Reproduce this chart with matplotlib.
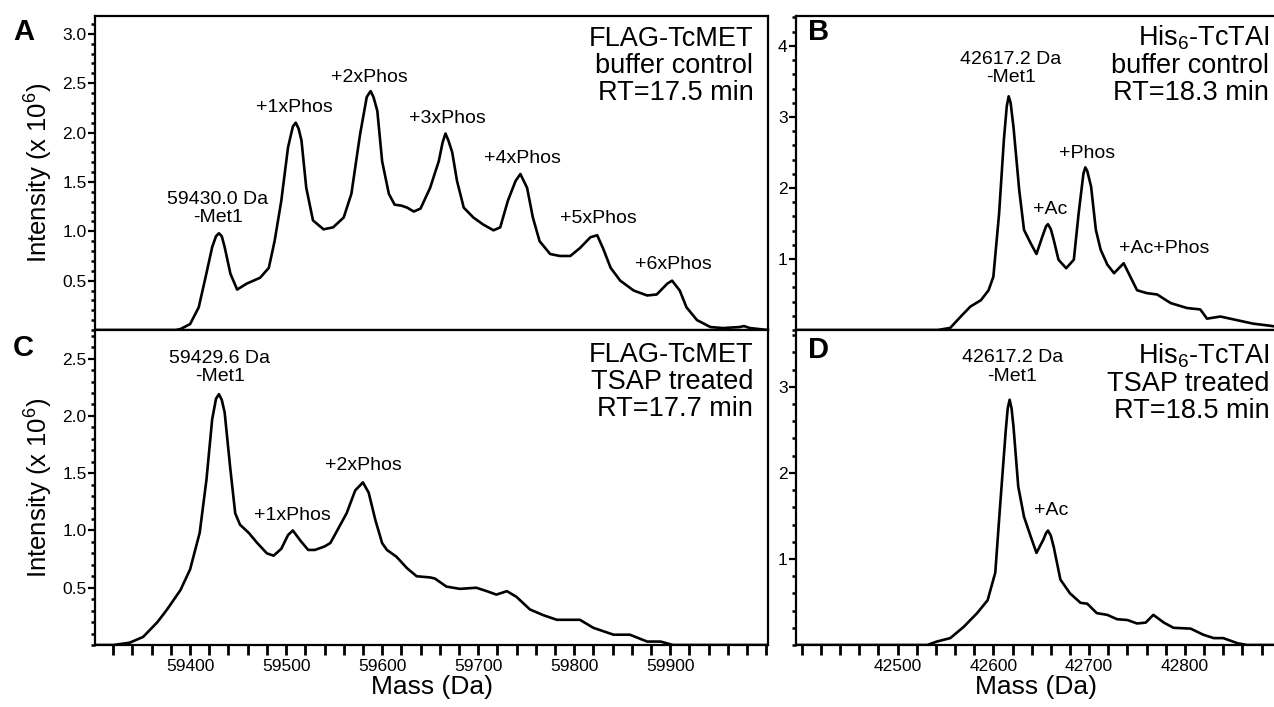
"""
Deconvoluted intact-mass spectra for FLAG-TcMET and His6-TcTAI,
buffer control vs TSAP treated.
"""

import matplotlib
matplotlib.use('Agg')
import matplotlib.pyplot as plt
from matplotlib.ticker import MultipleLocator, FixedLocator, FormatStrFormatter

plt.rcParams['font.family'] = ['Liberation Sans', 'DejaVu Sans']
plt.rcParams['mathtext.fontset'] = 'custom'
plt.rcParams['mathtext.rm'] = 'Liberation Sans'
plt.rcParams['mathtext.default'] = 'regular'

# Panel A: FLAG-TcMET buffer control (mass in Da, intensity x 10^6)
mass_a = [59301, 59330, 59360, 59385, 59390, 59400, 59409, 59416, 59423, 59427,
          59430, 59433, 59436, 59442, 59449, 59459, 59473, 59482, 59488, 59495,
          59502, 59507, 59510, 59513, 59516, 59521, 59528, 59539, 59549, 59560,
          59568, 59577, 59584, 59588, 59591, 59595, 59600, 59607, 59613, 59620,
          59626, 59633, 59640, 59650, 59659, 59663, 59666, 59669, 59673, 59678,
          59685, 59695, 59705, 59716, 59723, 59731, 59739, 59744, 59751, 59757,
          59764, 59775, 59785, 59796, 59806, 59817, 59824, 59830, 59838, 59848,
          59862, 59876, 59886, 59897, 59902, 59910, 59917, 59928, 59942, 59955,
          59972, 59977, 59983, 60002]
int_a = [0.0, 0.0, 0.0, 0.0, 0.01, 0.06, 0.23, 0.53, 0.84, 0.95,
         0.98, 0.95, 0.84, 0.57, 0.41, 0.47, 0.53, 0.63, 0.90, 1.31,
         1.85, 2.06, 2.10, 2.04, 1.92, 1.44, 1.11, 1.02, 1.04, 1.14,
         1.38, 1.98, 2.36, 2.42, 2.36, 2.22, 1.71, 1.38, 1.27, 1.26,
         1.24, 1.20, 1.23, 1.44, 1.71, 1.90, 1.99, 1.92, 1.80, 1.51,
         1.24, 1.14, 1.07, 1.01, 1.04, 1.31, 1.51, 1.58, 1.44, 1.14,
         0.90, 0.77, 0.75, 0.75, 0.83, 0.94, 0.96, 0.83, 0.63, 0.50,
         0.40, 0.35, 0.36, 0.47, 0.50, 0.40, 0.23, 0.10, 0.03, 0.02,
         0.03, 0.04, 0.02, 0.0]

# Panel C: FLAG-TcMET TSAP treated
mass_c = [59301, 59320, 59337, 59351, 59366, 59376, 59390, 59400, 59410, 59417,
          59423, 59427, 59430, 59433, 59436, 59442, 59447, 59452, 59461, 59470,
          59480, 59487, 59495, 59502, 59507, 59515, 59523, 59530, 59540, 59546,
          59550, 59563, 59572, 59580, 59586, 59593, 59600, 59605, 59615, 59626,
          59636, 59650, 59655, 59667, 59681, 59698, 59709, 59719, 59730, 59740,
          59754, 59768, 59782, 59796, 59806, 59820, 59841, 59858, 59876, 59890,
          59903, 59950, 60002]
int_c = [0.0, 0.0, 0.02, 0.07, 0.20, 0.31, 0.48, 0.66, 0.98, 1.44,
         1.97, 2.15, 2.19, 2.14, 2.03, 1.53, 1.15, 1.05, 0.98, 0.89,
         0.80, 0.78, 0.84, 0.96, 1.00, 0.91, 0.83, 0.83, 0.86, 0.89,
         0.95, 1.15, 1.35, 1.42, 1.33, 1.09, 0.89, 0.83, 0.77, 0.67,
         0.60, 0.59, 0.58, 0.51, 0.49, 0.50, 0.47, 0.44, 0.47, 0.42,
         0.31, 0.26, 0.22, 0.22, 0.22, 0.15, 0.09, 0.09, 0.03, 0.03,
         0.0, 0.0, 0.0]

# Panel B: His6-TcTAI buffer control
mass_b = [42394, 42450, 42500, 42542, 42555, 42566, 42576, 42587, 42595, 42600,
          42606, 42611, 42614, 42616, 42618, 42621, 42627, 42632, 42639, 42645,
          42651, 42655, 42657, 42660, 42663, 42668, 42676, 42684, 42689, 42694,
          42696, 42698, 42702, 42707, 42712, 42719, 42726, 42731, 42736, 42743,
          42750, 42760, 42771, 42785, 42802, 42816, 42823, 42837, 42854, 42871,
          42889, 42894]
int_b = [0.0, 0.0, 0.0, 0.0, 0.03, 0.19, 0.33, 0.42, 0.56, 0.75,
         1.64, 2.68, 3.15, 3.29, 3.20, 2.86, 1.97, 1.41, 1.22, 1.07,
         1.31, 1.46, 1.49, 1.42, 1.27, 0.99, 0.87, 0.99, 1.64, 2.20,
         2.29, 2.24, 2.02, 1.41, 1.13, 0.92, 0.80, 0.87, 0.94, 0.75,
         0.56, 0.52, 0.50, 0.38, 0.31, 0.29, 0.16, 0.19, 0.14, 0.09,
         0.06, 0.05]

# Panel D: His6-TcTAI TSAP treated
mass_d = [42394, 42450, 42500, 42531, 42541, 42555, 42569, 42583, 42594, 42602,
          42607, 42613, 42615, 42617, 42619, 42621, 42626, 42632, 42639, 42645,
          42652, 42655, 42657, 42660, 42663, 42670, 42680, 42691, 42698, 42708,
          42719, 42729, 42740, 42750, 42759, 42767, 42778, 42788, 42806, 42819,
          42830, 42840, 42855, 42865, 42894]
int_d = [0.0, 0.0, 0.0, 0.0, 0.04, 0.08, 0.21, 0.37, 0.52, 0.84,
         1.61, 2.50, 2.75, 2.85, 2.75, 2.54, 1.84, 1.49, 1.26, 1.07,
         1.22, 1.30, 1.33, 1.27, 1.14, 0.76, 0.60, 0.49, 0.48, 0.37,
         0.35, 0.30, 0.29, 0.25, 0.26, 0.35, 0.26, 0.20, 0.19, 0.12,
         0.08, 0.08, 0.02, 0.0, 0.0]

# Peak labels: (text, mass, intensity)
labels_a = [('59430.0 Da\n-Met1', 59429, 1.23), ('+1xPhos', 59509, 2.25),
            ('+2xPhos', 59587, 2.56), ('+3xPhos', 59668, 2.14),
            ('+4xPhos', 59746, 1.74), ('+5xPhos', 59825, 1.13),
            ('+6xPhos', 59903, 0.66)]
labels_c = [('59429.6 Da\n-Met1', 59431, 2.42), ('+1xPhos', 59507, 1.135),
            ('+2xPhos', 59580, 1.57)]
labels_b = [('42617.2 Da\n-Met1', 42618, 3.68), ('+Ac', 42659, 1.70),
            ('+Phos', 42698, 2.48), ('+Ac+Phos', 42778, 1.15)]
labels_d = [('42617.2 Da\n-Met1', 42620, 3.23), ('+Ac', 42660, 1.56)]

xticks_ac = [59400, 59500, 59600, 59700, 59800, 59900]
xticks_bd = [42500, 42600, 42700, 42800]

title_a = 'FLAG-TcMET\nbuffer control\nRT=17.5 min'
title_c = 'FLAG-TcMET\nTSAP treated\nRT=17.7 min'
title_b = 'His$_6$-TcTAI\nbuffer control\nRT=18.3 min'
title_d = 'His$_6$-TcTAI\nTSAP treated\nRT=18.5 min'


def style_axis(ax, xlim, xticks, ylim, ymajor, yminor, yfmt, xlabel=False):
    ax.set_xlim(*xlim)
    ax.set_ylim(*ylim)
    for s in ax.spines.values():
        s.set_linewidth(1.6)
    ax.xaxis.set_major_locator(FixedLocator(xticks))
    ax.xaxis.set_minor_locator(MultipleLocator(20))
    yt = [ymajor * k for k in range(1, int(ylim[1] / ymajor) + 1)]
    ax.yaxis.set_major_locator(FixedLocator(yt))
    ax.yaxis.set_minor_locator(MultipleLocator(yminor))
    ax.yaxis.set_major_formatter(FormatStrFormatter(yfmt))
    ax.tick_params(axis='y', which='major', direction='out', length=5, width=1.6,
                   labelsize=12.5, pad=1)
    ax.tick_params(axis='y', which='minor', direction='out', length=3, width=1.8)
    if xlabel:
        ax.tick_params(axis='x', which='both', direction='out', length=7, width=2,
                       labelsize=12.5, pad=3)
        ax.set_xlabel('Mass (Da)', fontsize=19, labelpad=1)
    else:
        ax.tick_params(axis='x', which='both', bottom=False, labelbottom=False)


def annotate(ax, labels, title, tx, ty):
    for text, x, y in labels:
        ax.text(x, y, text, ha='center', va='center', fontsize=14,
                linespacing=1.1)
    ax.text(tx, ty, title, transform=ax.transAxes, ha='right', va='top',
            fontsize=19.5, linespacing=1.05)


fig = plt.figure(figsize=(12.74, 7.07), dpi=100)
ax_a = fig.add_axes([0.0746, 0.5332, 0.5283, 0.4441])
ax_c = fig.add_axes([0.0746, 0.0877, 0.5283, 0.4455])
ax_b = fig.add_axes([0.6248, 0.5332, 0.3760, 0.4441])
ax_d = fig.add_axes([0.6248, 0.0877, 0.3760, 0.4455])

for ax, m, y in [(ax_a, mass_a, int_a), (ax_c, mass_c, int_c),
                 (ax_b, mass_b, int_b), (ax_d, mass_d, int_d)]:
    ax.plot(m, y, color='black', lw=1.9, solid_joinstyle='round')

style_axis(ax_a, (59301, 60002), xticks_ac, (0, 3.18), 0.5, 0.1, '%.1f')
style_axis(ax_c, (59301, 60002), xticks_ac, (0, 2.75), 0.5, 0.1, '%.1f', xlabel=True)
style_axis(ax_b, (42394, 42894), xticks_bd, (0, 4.42), 1, 0.2, '%d')
style_axis(ax_d, (42394, 42894), xticks_bd, (0, 3.66), 1, 0.2, '%d', xlabel=True)
ax_b.spines['right'].set_visible(False)
ax_d.spines['right'].set_visible(False)

ax_a.set_ylabel('Intensity (x 10$^6$)', fontsize=18.5, labelpad=5)
ax_c.set_ylabel('Intensity (x 10$^6$)', fontsize=18.5, labelpad=5)

annotate(ax_a, labels_a, title_a, 0.978, 0.968)
annotate(ax_c, labels_c, title_c, 0.978, 0.962)
annotate(ax_b, labels_b, title_b, 0.988, 0.975)
annotate(ax_d, labels_d, title_d, 0.988, 0.962)

# panel letters
fig.text(0.0102, 0.975, 'A', fontsize=21, fontweight='bold', va='top')
fig.text(0.634, 0.975, 'B', fontsize=21, fontweight='bold', va='top')
fig.text(0.0102, 0.528, 'C', fontsize=21, fontweight='bold', va='top')
fig.text(0.634, 0.525, 'D', fontsize=21, fontweight='bold', va='top')

fig.savefig('out.png', dpi=100)
